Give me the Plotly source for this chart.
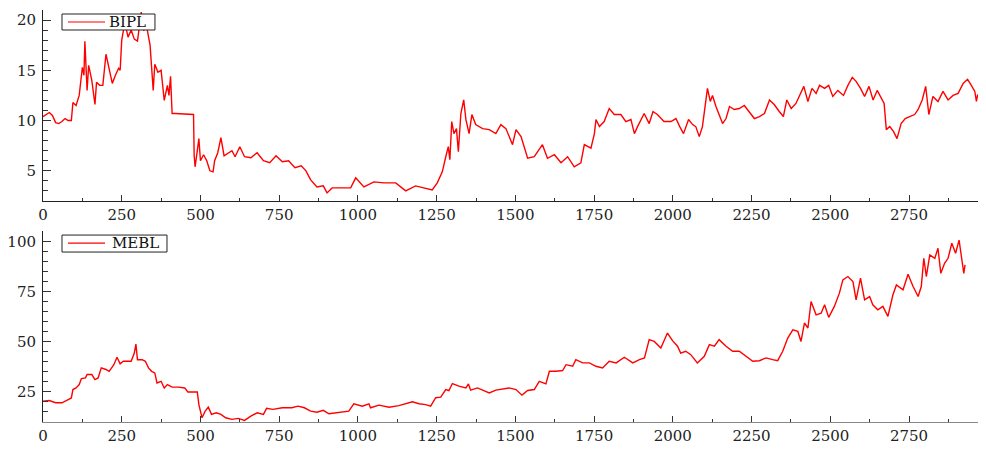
import plotly.graph_objects as go
from plotly.subplots import make_subplots

# BIPL (top panel) - index and price
bipl_x = [0, 10, 20, 30, 40, 50, 60, 70, 80, 90, 95, 105, 115, 125, 130, 133, 140, 145, 155, 165, 170, 180, 190,
          200, 210, 220, 230, 240, 245, 250, 260, 270, 280, 290, 300, 312, 320, 330, 340, 350, 355, 365, 375, 385,
          395, 400, 405, 410, 420, 478, 480, 483, 490, 495, 500, 510, 520, 530, 540, 545, 555, 565, 575, 590, 600,
          610, 625, 640, 660, 680, 700, 720, 740, 760, 780, 800, 820, 835, 850, 870, 890, 902, 918, 950, 977, 993,
          1019, 1051, 1083, 1120, 1152, 1183, 1215, 1236, 1252, 1268, 1279, 1287, 1292, 1298, 1305, 1313, 1319,
          1327, 1336, 1343, 1353, 1362, 1374, 1396, 1417, 1438, 1454, 1470, 1491, 1502, 1518, 1539, 1560, 1576,
          1586, 1602, 1624, 1645, 1666, 1687, 1708, 1719, 1740, 1751, 1756, 1767, 1782, 1798, 1814, 1835, 1851,
          1867, 1878, 1888, 1909, 1925, 1937, 1951, 1972, 1994, 2010, 2022, 2034, 2050, 2063, 2073, 2084, 2094,
          2102, 2110, 2119, 2126, 2137, 2145, 2158, 2169, 2180, 2195, 2211, 2227, 2243, 2259, 2275, 2291, 2307,
          2322, 2338, 2351, 2362, 2376, 2391, 2404, 2416, 2429, 2442, 2455, 2466, 2482, 2495, 2508, 2524, 2542,
          2556, 2570, 2582, 2596, 2609, 2623, 2636, 2649, 2662, 2671, 2678, 2689, 2701, 2712, 2725, 2738, 2752,
          2768, 2779, 2792, 2803, 2813, 2826, 2842, 2858, 2874, 2890, 2906, 2922, 2936, 2948, 2959, 2964, 2968]
bipl_y = [10.4, 10.6, 10.8, 10.5, 9.8, 9.7, 9.9, 10.2, 10.0, 10.0, 11.8, 11.5, 12.5, 15.3, 14.5, 17.9, 13.0, 15.5,
          14.0, 11.6, 13.8, 13.5, 13.5, 16.6, 15.0, 13.7, 14.5, 15.2, 15.0, 18.0, 19.8, 18.3, 19.0, 18.1, 17.9,
          20.8, 19.0, 19.2, 17.5, 13.0, 15.6, 14.8, 15.0, 12.0, 13.5, 12.5, 14.4, 10.7, 10.7, 10.6, 6.5, 5.4, 7.0,
          8.2, 6.0, 6.6, 6.0, 5.0, 4.9, 6.0, 6.8, 8.3, 6.5, 6.8, 7.0, 6.4, 7.4, 6.4, 6.3, 6.8, 6.0, 5.8, 6.5, 5.9,
          6.0, 5.3, 5.5, 5.0, 4.1, 3.4, 3.5, 2.8, 3.3, 3.3, 3.3, 4.3, 3.4, 3.9, 3.8, 3.8, 3.0, 3.5, 3.3, 3.1, 3.8,
          4.9, 6.4, 7.4, 6.1, 9.9, 8.7, 9.2, 6.9, 10.7, 12.05, 10.1, 8.7, 10.6, 9.6, 9.2, 9.1, 8.7, 9.6, 9.2, 7.6,
          9.1, 8.4, 6.25, 6.4, 7.1, 7.6, 6.25, 6.6, 5.8, 6.4, 5.4, 5.8, 7.6, 7.25, 8.7, 10.1, 9.4, 9.9, 11.2, 10.6,
          10.6, 9.9, 10.1, 8.7, 9.4, 10.7, 9.7, 10.9, 10.6, 9.9, 9.9, 10.2, 9.4, 8.7, 10.1, 9.6, 9.4, 8.4, 9.4,
          11.2, 13.2, 11.9, 12.5, 11.4, 10.7, 9.7, 10.2, 11.4, 11.1, 11.2, 11.5, 10.9, 10.2, 10.4, 10.7, 12.05,
          11.6, 10.9, 10.4, 12.05, 11.2, 11.7, 12.5, 13.4, 11.9, 13.2, 12.7, 13.5, 13.2, 13.5, 12.4, 13.0, 12.5,
          13.5, 14.3, 13.9, 13.2, 12.4, 13.4, 12.05, 13.0, 12.2, 11.7, 9.1, 9.4, 8.9, 8.2, 9.7, 10.2, 10.4, 10.6,
          11.1, 12.05, 13.4, 10.6, 12.4, 11.9, 12.9, 12.05, 12.5, 12.7, 13.7, 14.1, 13.5, 12.9, 11.9, 12.6]

# MEBL (bottom panel)
mebl_x = [0, 20, 40, 60, 80, 90, 95, 105, 115, 122, 135, 140, 155, 165, 175, 185, 200, 210, 225, 235, 245, 255,
          265, 280, 290, 295, 300, 315, 325, 335, 345, 355, 362, 375, 385, 395, 410, 430, 450, 460, 490, 495, 505,
          515, 525, 535, 550, 565, 580, 600, 620, 640, 660, 680, 700, 710, 730, 760, 790, 810, 830, 850, 870, 890,
          908, 940, 971, 987, 1014, 1035, 1040, 1067, 1099, 1130, 1152, 1173, 1194, 1215, 1231, 1247, 1263, 1279,
          1289, 1300, 1321, 1343, 1351, 1358, 1380, 1401, 1417, 1438, 1459, 1480, 1502, 1521, 1539, 1560, 1576,
          1597, 1608, 1629, 1650, 1661, 1682, 1692, 1714, 1735, 1756, 1777, 1798, 1820, 1846, 1873, 1894, 1910,
          1925, 1941, 1962, 1983, 1999, 2015, 2025, 2041, 2057, 2078, 2100, 2116, 2132, 2147, 2169, 2190, 2211,
          2233, 2254, 2275, 2296, 2317, 2333, 2349, 2365, 2381, 2397, 2407, 2418, 2429, 2439, 2455, 2471, 2482,
          2495, 2513, 2529, 2540, 2556, 2572, 2582, 2596, 2609, 2625, 2635, 2651, 2667, 2683, 2699, 2710, 2731,
          2747, 2763, 2779, 2789, 2797, 2805, 2816, 2832, 2842, 2851, 2863, 2874, 2886, 2898, 2909, 2917, 2924,
          2928]
mebl_y = [20.4, 20.7, 19.6, 19.6, 21.2, 22.0, 26.2, 27.0, 28.7, 31.7, 32.0, 33.7, 33.7, 31.2, 32.0, 37.0, 36.2,
          35.3, 38.6, 42.3, 39.0, 40.3, 40.3, 40.3, 44.4, 48.9, 41.1, 41.1, 40.3, 37.0, 35.3, 34.5, 29.5, 30.3,
          27.0, 28.7, 27.4, 27.4, 27.0, 25.0, 25.0, 18.7, 12.1, 15.4, 17.4, 13.8, 14.6, 13.8, 12.1, 11.3, 11.8,
          10.8, 12.9, 14.6, 13.8, 16.8, 16.3, 17.1, 17.1, 17.9, 17.1, 15.4, 14.9, 15.8, 14.1, 14.6, 15.4, 19.1,
          17.9, 19.1, 17.1, 18.4, 17.4, 18.2, 19.2, 20.1, 19.1, 18.7, 17.9, 22.1, 22.4, 26.2, 25.7, 29.2, 27.9,
          27.0, 29.0, 25.9, 27.0, 25.4, 24.5, 25.9, 26.5, 27.0, 26.2, 23.4, 25.7, 26.2, 30.3, 29.0, 35.3, 35.3,
          35.7, 38.6, 37.8, 41.1, 39.5, 39.5, 37.8, 37.0, 40.3, 39.5, 42.3, 39.5, 41.1, 42.0, 51.1, 50.2, 46.9,
          54.4, 50.6, 47.8, 44.4, 45.3, 43.6, 39.5, 42.8, 48.6, 47.8, 51.1, 47.8, 45.3, 45.3, 42.8, 40.3, 40.6,
          42.0, 41.1, 40.6, 45.3, 51.9, 56.0, 55.2, 50.2, 59.4, 56.9, 70.1, 63.5, 64.3, 68.5, 62.2, 67.7, 74.3,
          80.9, 82.6, 80.1, 71.0, 81.8, 71.0, 72.6, 68.5, 66.0, 67.7, 62.7, 73.5, 78.4, 76.0, 83.7, 77.6, 72.6,
          77.6, 91.7, 82.6, 93.4, 91.7, 96.7, 84.2, 89.2, 91.7, 99.2, 94.2, 100.8, 92.5, 84.2, 88.4]

series_names = ["BIPL", "MEBL"]
x_ticks = [0, 250, 500, 750, 1000, 1250, 1500, 1750, 2000, 2250, 2500, 2750]

FONT = "DejaVu Serif"
RED = "#ff0000"

fig = make_subplots(rows=2, cols=1, vertical_spacing=0.073)
fig.add_trace(go.Scatter(x=bipl_x, y=bipl_y, mode="lines", name=series_names[0], showlegend=False,
                         line=dict(color=RED, width=1.4)), row=1, col=1)
fig.add_trace(go.Scatter(x=mebl_x, y=mebl_y, mode="lines", name=series_names[1], showlegend=False,
                         line=dict(color=RED, width=1.4)), row=2, col=1)

axis_common = dict(showgrid=False, zeroline=False, showline=True, ticks="inside", automargin=False,
                   tickfont=dict(family=FONT, size=15, color="#222"), mirror=False)

fig.update_xaxes(range=[0, 2985], tickvals=x_ticks, ticklen=6, tickcolor="#333",
                 minor=dict(dtick=125, tick0=0, ticks="inside", ticklen=3, tickcolor="#333"),
                 **axis_common)
fig.update_xaxes(linecolor="#222", row=1, col=1)
fig.update_xaxes(linecolor="#888", row=2, col=1)

fig.update_yaxes(range=[2, 21], tickvals=[5, 10, 15, 20], ticklen=8, linecolor="#222", tickcolor="#333",
                 ticklabelstandoff=3,
                 minor=dict(dtick=1, tick0=0, ticks="inside", ticklen=5, tickcolor="#333"),
                 row=1, col=1, **axis_common)
fig.update_yaxes(range=[10, 105.3], tickvals=[25, 50, 75, 100], ticklen=8, linecolor="#222", tickcolor="#333",
                 ticklabelstandoff=3,
                 minor=dict(dtick=5, tick0=0, ticks="inside", ticklen=5, tickcolor="#333"),
                 row=2, col=1, **axis_common)

# compact boxed legends (one per panel), placed in axis-domain coordinates
legend_specs = [
    # name, x-axis ref, y-axis ref, box x1, box y0, box y1, sample y, text x
    (series_names[0], "x", "y", 0.1191, 0.8953, 0.979, 0.9372, 0.0681),
    (series_names[1], "x2", "y2", 0.1319, 0.890, 0.979, 0.9372, 0.0715),
]
for name, xr, yr, bx1, by0, by1, sy, tx in legend_specs:
    fig.add_shape(type="rect", xref=f"{xr} domain", yref=f"{yr} domain",
                  x0=0.0202, x1=bx1, y0=by0, y1=by1,
                  line=dict(color="#222", width=1), fillcolor="white", layer="above")
    fig.add_shape(type="line", xref=f"{xr} domain", yref=f"{yr} domain",
                  x0=0.0266, x1=0.0660, y0=sy, y1=sy,
                  line=dict(color=RED, width=1.2), layer="above")
    fig.add_annotation(xref=f"{xr} domain", yref=f"{yr} domain", x=tx, y=sy,
                       xanchor="left", yanchor="middle", showarrow=False, text=name,
                       font=dict(family=FONT, size=15, color="#111"))

# page body has an 8px margin, so the figure is shrunk by that amount
fig.update_layout(
    width=978, height=442,
    margin=dict(l=35, r=3, t=2, b=28),
    paper_bgcolor="white", plot_bgcolor="white",
)

fig.write_html("out.html")
